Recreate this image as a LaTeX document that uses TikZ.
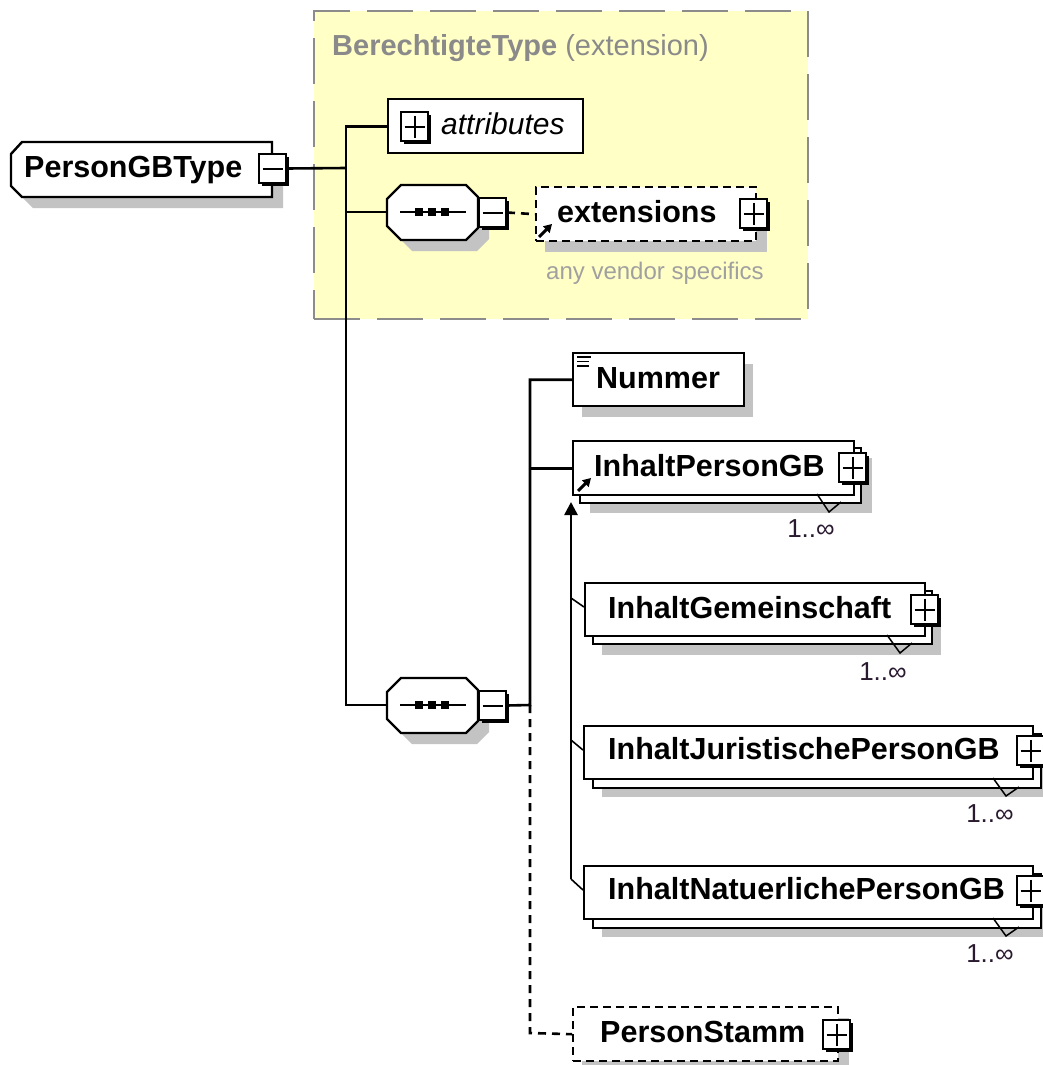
\documentclass[tikz,border=0pt]{standalone}
\usepackage{fontspec}
\setmainfont{Liberation Sans}
\usetikzlibrary{calc,arrows.meta}
\definecolor{ybg}{HTML}{FFFFC6}
\definecolor{ybd}{HTML}{8C8C8C}
\definecolor{shd}{HTML}{C3C3C3}
\definecolor{ttl}{HTML}{8A8A8A}
\definecolor{vend}{HTML}{A0A0A0}
\definecolor{mult}{HTML}{2A1A30}
\tikzset{
  pm/.style={draw, line width=2, fill=white, minimum width=27, minimum height=29, inner sep=0},
  elbox/.style={draw, line width=2.4, fill=white, inner sep=0, anchor=north west},
  dbox/.style={elbox, dash pattern=on 8pt off 5pt},
  lbl/.style={font=\bfseries\fontsize{30.5}{32}\selectfont, inner sep=0, anchor=base west},
  mlt/.style={font=\fontsize{26}{28}\selectfont, text=mult, inner sep=0, anchor=base},
  conn/.style={line width=2.6},
  dconn/.style={line width=2.6, dash pattern=on 8pt off 6pt},
  sym/.style={line width=2.4, fill=white},
  notch/.style={line width=1.5},
  icon/.style={line width=3, -{Triangle[length=8pt,width=9pt]}},
}
\newcommand\mkpm[4]{%
  \fill[black] (#2+4,#3+4) rectangle (#2+31,#3+33);
  \node[pm, anchor=north west] (#1) at (#2,#3) {};
  \draw[line width=2] ($(#1.center)+(-10,0)$) -- ($(#1.center)+(10,0)$);
  \ifnum#4=1\relax \draw[line width=2] ($(#1.center)+(0,-11)$) -- ($(#1.center)+(0,11)$);\fi
}
\begin{document}
\begin{tikzpicture}[x=1pt,y=-1pt,line join=miter]
\useasboundingbox (0,0) rectangle (1043,1065);
\clip (0,0) rectangle (1043,1065);
\fill[white] (0,0) rectangle (1043,1065);

% extension frame
\node[draw=ybd, dash pattern=on 46pt off 17pt, line width=2.4, fill=ybg, minimum width=494, minimum height=308, anchor=north west, inner sep=0] (frame) at (313,10) {};
\node[anchor=base west, text=ttl, inner sep=0, font=\fontsize{29}{30}\selectfont] (title) at (332,56) {\textbf{BerechtigteType} (extension)};

% PersonGBType
\fill[shd] (33,153) -- (283,153) -- (283,208) -- (33,208) -- (22,197) -- (22,165) -- cycle;
\draw[sym] (22,142) -- (272,142) -- (272,197) -- (22,197) -- (11,186) -- (11,154) -- cycle;
\node[lbl] (pgbt) at (24,177) {PersonGBType};
\mkpm{pgbm}{258}{153}{0}

% spine 1
\coordinate (s1b) at (346,168);
\coordinate (s1c) at (346,212);
\coordinate (s1d) at (346,705);
\coordinate (seq1w) at (387,212);
\coordinate (seq2w) at (387,705);

% attributes
\node[elbox, minimum width=195, minimum height=54] (attr) at (387,98) {};
\mkpm{attrp}{400}{111}{1}
\node[lbl, font=\itshape\fontsize{30}{32}\selectfont] (attrt) at (441,134) {attributes};

\draw[conn] (pgbm.east) -- (s1b);
\draw[conn] (attr.west) -| (s1d) -- (seq2w);
\draw[conn] (s1c) -- (seq1w);

% sequence 1
\fill[shd] (412,196) -- (477,196) -- (489,208) -- (489,239) -- (477,251) -- (412,251) -- (398,237) -- (398,210) -- cycle;
\draw[sym] (401,185) -- (466,185) -- (478,197) -- (478,228) -- (466,240) -- (401,240) -- (387,226) -- (387,199) -- cycle;
\draw[line width=2.2] (400,212) -- (466,212);
\fill (415,208) rectangle (423,216);
\fill (428,208) rectangle (436,216);
\fill (441,208) rectangle (449,216);
\mkpm{seq1m}{478}{197}{0}

% extensions
\fill[shd] (545,198) rectangle (767,252);
\node[dbox, minimum width=220, minimum height=54] (extb) at (535,186) {};
\node[lbl] (extt) at (557,222) {extensions};
\draw[icon] (539,237) -- (552,224);
\mkpm{extp}{739}{198}{1}
\draw[dconn] (seq1m.east) -- (extb.west);
\node[anchor=base west, text=vend, inner sep=0, font=\fontsize{24}{26}\selectfont] (vendt) at (546,279) {any vendor specifics};

% sequence 2
\fill[shd] (412,689) -- (477,689) -- (489,701) -- (489,732) -- (477,744) -- (412,744) -- (398,730) -- (398,703) -- cycle;
\draw[sym] (401,678) -- (466,678) -- (478,690) -- (478,721) -- (466,733) -- (401,733) -- (387,719) -- (387,692) -- cycle;
\draw[line width=2.2] (400,705) -- (466,705);
\fill (415,701) rectangle (423,709);
\fill (428,701) rectangle (436,709);
\fill (441,701) rectangle (449,709);
\mkpm{seq2m}{478}{690}{0}

% spine 2
\coordinate (s2b) at (530,705);
\coordinate (s2c) at (530,1033);

% Nummer
\fill[shd] (582,364) rectangle (753,417);
\node[elbox, minimum width=171, minimum height=53] (num) at (572,352) {};
\draw[line width=1.5] (577,357) -- (591,357);
\draw[line width=1.5] (577,361.5) -- (589,361.5);
\draw[line width=1.5] (577,366) -- (589,366);
\node[lbl] (numt) at (596,388) {Nummer};

% InhaltPersonGB
\fill[shd] (590,458) rectangle (872,513);
\node[elbox, minimum width=281, minimum height=55] (ipgbb) at (579,447) {};
\node[elbox, minimum width=281, minimum height=54] (ipgb) at (572,440) {};
\node[lbl] (ipgbt) at (594,476) {InhaltPersonGB};
\draw[icon] (578,491) -- (591,478);
\mkpm{ipgbp}{838}{452}{1}
\draw[notch] (817,494) -- (829,512) -- (841,502);
\node[mlt] (ipgbm) at (811,537) {1..∞};

\draw[conn] (num.west) -| (s2b) -- (seq2m.east);
\draw[conn] (ipgb.west) -- (ipgb.west -| s2b);

% InhaltGemeinschaft
\fill[shd] (602,602) rectangle (941,655);
\node[elbox, minimum width=339, minimum height=53] (igb) at (592,590) {};
\node[elbox, minimum width=340, minimum height=53] (ig) at (584,582) {};
\node[lbl] (igt) at (608,618) {InhaltGemeinschaft};
\mkpm{igp}{910}{594}{1}
\draw[notch] (887,635) -- (900,653) -- (912,643);
\node[mlt] (igm) at (883,680) {1..∞};

% InhaltJuristischePersonGB
\fill[shd] (602,745) rectangle (1052,797);
\node[elbox, minimum width=448, minimum height=54] (ijb) at (592,733) {};
\node[elbox, minimum width=449, minimum height=53] (ij) at (583,725) {};
\node[lbl] (ijt) at (608,759) {InhaltJuristischePersonGB};
\mkpm{ijp}{1016}{735}{1}
\draw[notch] (993,778) -- (1006,796) -- (1019,787);
\node[mlt] (ijm) at (990,822) {1..∞};

% InhaltNatuerlichePersonGB
\fill[shd] (602,885) rectangle (1052,937);
\node[elbox, minimum width=448, minimum height=54] (inb) at (592,873) {};
\node[elbox, minimum width=449, minimum height=53] (in) at (583,865) {};
\node[lbl] (int) at (608,899) {InhaltNatuerlichePersonGB};
\mkpm{inp}{1016}{875}{1}
\draw[notch] (993,918) -- (1006,936) -- (1019,927);
\node[mlt] (inm) at (990,962) {1..∞};

% substitution line
\coordinate (v3t) at (571,502);
\coordinate (v3a) at (571,598);
\coordinate (v3b) at (571,740);
\coordinate (v3c) at (571,879);
\draw[conn, -{Triangle[width=13pt,length=13pt]}] (v3c) -- (v3t);
\draw[line width=1.6] (v3a) -- ($(ig.north west)+(0,25)$);
\draw[line width=1.6] (v3b) -- ($(ij.north west)+(0,25)$);
\draw[line width=1.6] (v3c) -- ($(in.north west)+(0,25)$);

% PersonStamm
\fill[shd] (582,1018) rectangle (849,1075);
\node[dbox, minimum width=265, minimum height=54] (pst) at (572,1006) {};
\node[lbl] (pstt) at (600,1042) {PersonStamm};
\mkpm{pstp}{822}{1019}{1}
\draw[dconn] (s2b) -- (s2c) -- (pst.west);
\end{tikzpicture}
\end{document}
